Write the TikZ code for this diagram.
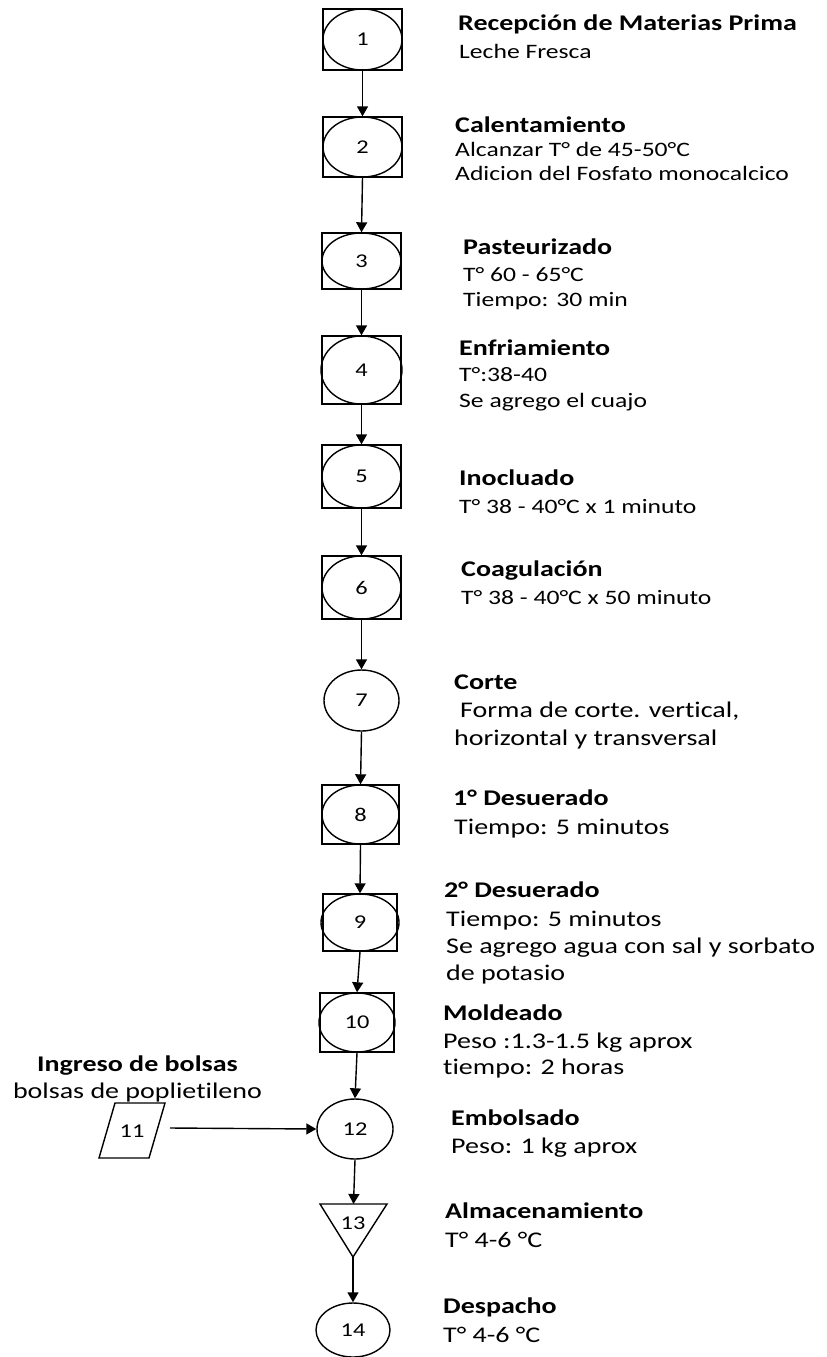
\documentclass[tikz,border=0pt]{standalone}
\usepackage{fontspec}
\setmainfont{Carlito}[FakeStretch=1.25,Ligatures=NoCommon]
\usetikzlibrary{arrows.meta,shapes.geometric}
\begin{document}
\begin{tikzpicture}[x=1pt,y=-1pt,
  box/.style={draw, line width=1.4pt, rectangle, inner sep=0pt},
  ell/.style={draw, line width=1.4pt, ellipse, inner sep=0pt, font=\fontsize{19.5}{19.5}\selectfont},
  numlbl/.style={inner sep=0pt, font=\fontsize{19.5}{19.5}\selectfont},
  arr/.style={-{Triangle[length=10pt,width=11pt]}, line width=1.4pt},
  ttl/.style={anchor=base west, inner sep=0pt, font=\bfseries\fontsize{22.4}{26}\selectfont},
  txa/.style={anchor=base west, inner sep=0pt, font=\fontsize{20.5}{24}\selectfont},
  txb/.style={anchor=base west, inner sep=0pt, font=\fontsize{22.4}{26}\selectfont}]
\useasboundingbox (0,0) rectangle (827,1357);

% shapes
\node[box, minimum width=79pt, minimum height=61pt] (b1) at (362.5,39.5) {};
\node[ell, minimum width=79pt, minimum height=61pt] (n1) at (b1.center) {1};
\node[box, minimum width=79pt, minimum height=60pt] (b2) at (362.5,147) {};
\node[ell, minimum width=79pt, minimum height=60pt] (n2) at (b2.center) {2};
\node[box, minimum width=79pt, minimum height=56pt] (b3) at (361.5,261) {};
\node[ell, minimum width=79pt, minimum height=56pt] (n3) at (b3.center) {3};
\node[box, minimum width=79pt, minimum height=68pt] (b4) at (361.5,370) {};
\node[ell, minimum width=81pt, minimum height=68pt] (n4) at (b4.center) {4};
\node[box, minimum width=79pt, minimum height=63pt] (b5) at (361.5,476.5) {};
\node[ell, minimum width=79pt, minimum height=63pt] (n5) at (b5.center) {5};
\node[box, minimum width=79pt, minimum height=63pt] (b6) at (361.5,587.5) {};
\node[ell, minimum width=79pt, minimum height=63pt] (n6) at (b6.center) {6};
\node[ell, minimum width=75pt, minimum height=61pt] (n7) at (361.5,700.5) {7};
\node[box, minimum width=77pt, minimum height=59pt] (b8) at (360.5,814.5) {};
\node[ell, minimum width=77pt, minimum height=59pt] (n8) at (b8.center) {8};
\node[box, minimum width=74pt, minimum height=57pt] (b9) at (360,922.5) {};
\node[ell, minimum width=78pt, minimum height=57pt] (n9) at (b9.center) {9};
\node[box, minimum width=74pt, minimum height=59pt] (b10) at (357,1022.5) {};
\node[ell, minimum width=76pt, minimum height=59pt] (n10) at (b10.center) {10};
\node[ell, minimum width=76pt, minimum height=60pt] (n12) at (355,1129) {12};
\node[ell, minimum width=74pt, minimum height=54pt] (n14) at (353,1330) {14};

% parallelogram 11
\draw[line width=1.4pt] (99,1158) -- (115,1103) -- (165,1103) -- (149,1158) -- cycle;
\node[numlbl] (n11) at (132,1131) {11};
\coordinate (p11) at (170,1128);

% triangle 13
\coordinate (t13l) at (320,1204);
\coordinate (t13r) at (387,1204);
\coordinate (t13top) at (353.5,1204);
\coordinate (t13apex) at (353,1257);
\draw[line width=1.4pt] (t13l) -- (t13r) -- (t13apex) -- cycle;
\node[numlbl] (n13) at (353,1223) {13};

% connectors
\draw[arr] (b1.south) -- (b2.north);
\draw[arr] (b2.south) -- (b3.north);
\draw[arr] (b3.south) -- (b4.north);
\draw[arr] (b4.south) -- (b5.north);
\draw[arr] (b5.south) -- (b6.north);
\draw[arr] (b6.south) -- (n7.north);
\draw[arr] (n7.south) -- (b8.north);
\draw[arr] (b8.south) -- (b9.north);
\draw[arr] (b9.south) -- (b10.north);
\draw[arr] (b10.south) -- (n12.north);
\draw[arr] (p11) -- (n12.west);
\draw[arr] (n12.south) -- (t13top);
\draw[arr] (t13apex) -- (n14.north);

% texts
\node[ttl] (t1a) at (458,30) {Recepción de Materias Prima};
\node[txa] (t1b) at (459,58) {Leche Fresca};

\node[ttl] (t2a) at (455,132) {Calentamiento};
\node[txa] (t2b) at (455,156) {Alcanzar T° de 45-50°C};
\node[txa] (t2c) at (455,180) {Adicion del Fosfato monocalcico};

\node[ttl] (t3a) at (463,254) {Pasteurizado};
\node[txa] (t3b) at (463,281) {T° 60 - 65°C};
\node[txa] (t3c) at (463,306) {Tiempo: 30 min};

\node[ttl] (t4a) at (459,355) {Enfriamiento};
\node[txa] (t4b) at (459,381) {T°:38-40};
\node[txa] (t4c) at (459,407) {Se agrego el cuajo};

\node[ttl] (t5a) at (459,485) {Inocluado};
\node[txa] (t5b) at (459,513) {T° 38 - 40°C x 1 minuto};

\node[ttl] (t6a) at (461,576) {Coagulación};
\node[txa] (t6b) at (461,604) {T° 38 - 40°C x 50 minuto};

\node[ttl] (t7a) at (454,689) {Corte};
\node[txb] (t7b) at (460,717) {Forma de corte. vertical,};
\node[txb] (t7c) at (454,745) {horizontal y transversal};

\node[ttl] (t8a) at (453,805) {1° Desuerado};
\node[txb] (t8b) at (454,834) {Tiempo: 5 minutos};

\node[ttl] (t9a) at (444,897) {2° Desuerado};
\node[txb] (t9b) at (446,926) {Tiempo: 5 minutos};
\node[txb] (t9c) at (446,953) {Se agrego agua con sal y sorbato};
\node[txb] (t9d) at (446,980) {de potasio};

\node[ttl] (t10a) at (443,1020) {Moldeado};
\node[txb] (t10b) at (443,1048) {Peso :1.3-1.5 kg aprox};
\node[txb] (t10c) at (443,1074) {tiempo: 2 horas};

\node[ttl, anchor=base] (t11a) at (137.5,1071) {Ingreso de bolsas};
\node[txb, anchor=base] (t11b) at (137.5,1098) {bolsas de poplietileno};

\node[ttl] (t12a) at (451,1125) {Embolsado};
\node[txb] (t12b) at (451,1153) {Peso: 1 kg aprox};

\node[ttl] (t13a) at (445,1218) {Almacenamiento};
\node[txb] (t13b) at (445,1247) {T° 4-6 °C};

\node[ttl] (t14a) at (443,1313) {Despacho};
\node[txb] (t14b) at (443,1342) {T° 4-6 °C};
\end{tikzpicture}
\end{document}
